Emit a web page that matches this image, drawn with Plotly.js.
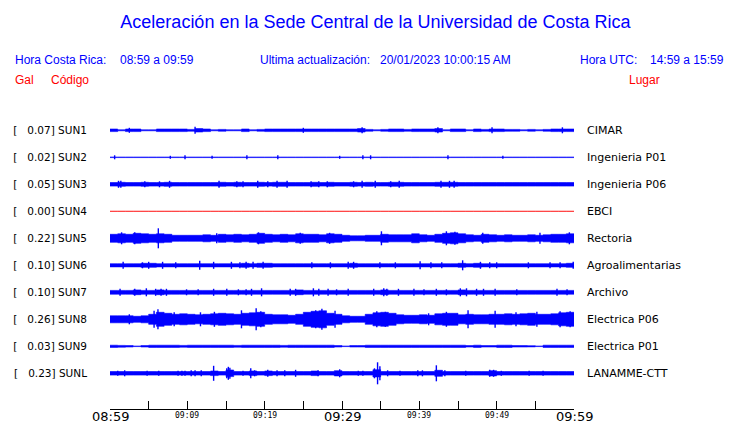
<!DOCTYPE html>
<html><head><meta charset="utf-8">
<script src="https://cdn.plot.ly/plotly-3.0.1.min.js"></script>
<style>html,body{margin:0;padding:0;background:#fff}#chart{width:740px;height:423px}</style>
</head><body><div id="chart"></div>
<script>
// ---- data ----
const peakGal = ["0.07","0.02","0.05","0.00","0.22","0.10","0.10","0.26","0.03","0.23"];
const codes = ["SUN1","SUN2","SUN3","SUN4","SUN5","SUN6","SUN7","SUN8","SUN9","SUNL"];
const places = ["CIMAR","Ingenieria P01","Ingenieria P06","EBCI","Rectoria","Agroalimentarias","Archivo","Electrica P06","Electrica P01","LANAMME-CTT"];
const tickMinutes = [0,5,10,15,20,25,30,35,40,45,50,55,60];
const tickLabels = ["08:59","","09:09","","09:19","","09:29","","09:39","","09:49","","09:59"];
const bigTickLabels = ["08:59","09:29","09:59"];

// envelope half-amplitude per minute (08:59 .. 09:59)
const envSUN1 = [1.3,0.5,1.3,1.3,0.5,0.5,1.3,1.3,1.3,1.3,0.9,1.7,1.3,0.5,0.9,0.5,0.5,1.3,0.5,0.9,1.3,1.3,1.3,1.3,1.3,1.3,1.3,1.3,1.3,1.3,1.3,1.3,1.7,0.9,0.5,0.9,1.3,1.3,0.9,1.3,1.3,1.3,1.7,0.5,1.3,1.3,0.5,1.3,0.9,1.3,1.3,0.9,0.9,0.5,0.9,0.5,0.9,1.3,1.3,1.3,1.3];
const envSUN2 = [0.3,0.3,0.3,0.3,0.3,0.3,0.3,0.3,0.3,0.3,0.3,0.3,0.3,0.3,0.3,0.3,0.3,0.3,0.3,0.3,0.3,0.3,0.3,0.3,0.3,0.3,0.3,0.3,0.3,0.3,0.3,0.3,0.3,0.3,0.3,0.3,0.3,0.3,0.3,0.3,0.3,0.3,0.3,0.3,0.3,0.3,0.3,0.3,0.3,0.3,0.3,0.3,0.3,0.3,0.3,0.3,0.3,0.3,0.3,0.3,0.3];
const envSUN3 = [1.8,2,1.8,1.8,2,1.8,1.8,2,1.8,1.8,1.8,1.8,1.8,1.8,2,1.8,2,1.8,1.8,2,1.8,2,2,1.8,1.8,1.8,2,1.8,2,1.8,1.8,2,1.8,2,1.8,1.8,2,2,1.8,1.8,1.8,1.8,2,2,2,1.8,1.8,1.8,1.8,1.8,1.8,1.8,1.8,1.8,1.8,1.8,1.8,1.8,1.8,1.8,1.8];
const envSUN4 = [0,0,0,0,0,0,0,0,0,0,0,0,0,0,0,0,0,0,0,0,0,0,0,0,0,0,0,0,0,0,0,0,0,0,0,0,0,0,0,0,0,0,0,0,0,0,0,0,0,0,0,0,0,0,0,0,0,0,0,0,0];
const envSUN5 = [4,4.5,4,5,4.5,4,4.5,4,3,3,3,3,3.5,3,4,3.5,4,3.5,4,5,4,3.5,4,3.5,4.5,4,4,3.5,4.5,4,3,2.5,2.5,3,3,4,3.5,3.5,3.5,4.5,3.5,3,4,5,5.5,4.5,3.5,3,4,3.5,3,3.5,3,3,3.5,3,3.5,4,4,4.5,4.5];
const envSUN6 = [1.6,1.6,1.6,1.6,2,2,1.6,1.6,1.6,1.6,1.6,1.6,1.6,1.6,1.6,1.6,1.6,2,1.6,2,2,1.6,1.6,1.6,1.6,1.6,1.6,1.6,1.6,1.6,1.6,2,1.6,1.6,1.6,1.6,1.6,1.6,1.6,1.6,1.6,1.6,1.6,1.6,1.6,2,1.6,2,1.6,1.6,1.6,1.6,1.6,1.6,1.6,1.6,1.6,1.6,1.6,2,1.6];
const envSUN7 = [1.9,1.9,1.9,2.4,1.9,1.9,2.4,1.9,1.9,1.9,1.9,1.9,1.9,1.9,1.9,1.9,1.9,1.9,1.9,1.9,1.9,1.9,1.9,1.9,2.4,1.9,1.9,1.9,1.9,1.9,1.9,1.9,1.9,1.9,1.9,2.4,1.9,1.9,1.9,1.9,1.9,1.9,1.9,1.9,1.9,2.4,1.9,1.9,1.9,1.9,1.9,1.9,1.9,1.9,1.9,1.9,1.9,1.9,1.9,1.9,1.9];
const envSUN8 = [3.5,3.5,3.5,3,3.5,5,7,6,5,5.5,5,4.5,5,5.5,6,5.5,5,6,6.5,7,5,4.5,4.5,4,5,7,8,8.5,6,5,3.5,3,3,5,6.5,7,6,4.5,4,4,4.5,4,5.5,6,6,4.5,5,4.5,4.5,5,5,5.5,5,5.5,6,5,5,5.5,6.5,7,7];
const envSUN9 = [1.1,0.9,0.7,0.3,0.7,1.1,1.1,1.1,1.1,0.9,1.1,1.1,1.1,1.1,1.1,1.1,0.9,1.1,1.1,1.1,1.1,1.1,0.9,1.1,1.1,1.1,1.1,1.1,1.1,0.7,0.3,0.7,0.7,1.1,1.1,1.1,1.1,1.1,1.1,1.1,1.1,1.1,1.1,1.1,1.1,1.1,0.7,1.1,0.7,0.7,1.1,1.1,0.7,0.7,0.6,0.3,1.1,1.1,1.1,1.1,1.1];
const envSUNL = [1.8,1.8,1.8,1.8,1.8,1.8,1.8,1.8,1.8,1.8,1.8,1.8,1.8,2.3,1.8,3.3,1.8,1.8,2.3,1.8,2.3,1.8,1.8,1.8,1.8,1.8,2.3,1.8,1.8,2.6,1.8,1.8,1.8,1.8,3.6,1.8,1.8,1.8,1.8,1.8,1.8,1.8,3,1.8,1.8,1.8,1.8,1.8,1.8,2.6,1.8,1.8,1.8,1.8,1.8,1.8,1.8,1.8,1.8,1.8,1.8];

// short bursts: time (minutes after 08:59) and half-amplitude
const spkT_SUN1 = [2.5,11.0,25.0,32.6,42.4,49.4,58.5];
const spkA_SUN1 = [2.5,3.5,2.5,3,3,3,3];
const spkT_SUN2 = [0.6,7.8,9.7,13.2,17.7,21.7,29.7,32.7,33.7,43.7,50.8];
const spkA_SUN2 = [2,1.5,2,1.5,2,2,1.5,2,2,2,1.5];
const spkT_SUN3 = [1.1,1.4,4.5,6.4,7.7,14.1,16.4,17.2,19.1,20.4,21.6,22.9,26.0,27.0,28.1,31.5,32.6,34.3,36.3,37.4,42.8,43.9,44.5];
const spkA_SUN3 = [3.5,3.5,3,3,3.5,3.5,3,3,3.5,3,3.5,3.5,3,3,3,3,3.5,3.5,3,3.5,3.5,3.5,3.5];
const spkT_SUN4 = [];
const spkA_SUN4 = [];
const spkT_SUN5 = [1.5,3.2,6.25,13.8,19.2,24.6,28.4,35.1,43.5,44.6,48.2,55.6,59.4];
const spkA_SUN5 = [6,6,10,5,6,5.5,5.5,7,7,6.5,5.5,5.5,6];
const spkT_SUN6 = [1.7,4.2,5.0,6.8,8.5,11.6,13.4,15.7,16.8,17.6,18.5,19.8,26.1,28.5,30.8,31.5,34.9,36.9,40.1,41.5,42.9,45.6,47.9,49.1,50.0,54.1,56.9,58.2,59.9];
const spkA_SUN6 = [3.5,3,3.5,3.5,3,4.5,3.5,3.5,3,3.5,3.5,3.5,3,3,3.5,3.5,3,3,4,3,3,5,3.5,3,3,3,3,3,3.5];
const spkT_SUN7 = [1.3,3.2,4.7,5.9,6.6,7.3,9.9,11.4,13.4,15.1,16.6,17.6,18.3,19.6,23.3,24.0,26.3,27.0,28.2,29.3,30.8,34.1,35.4,35.8,37.3,39.3,40.6,42.2,43.5,45.3,46.1,47.4,48.3,49.8,52.6,57.8,59.1];
const spkA_SUN7 = [3.5,3.5,4,3.5,3.5,3.5,3,3,3.5,3.5,3,3,3.5,4,3.5,3.5,4,3.5,3.5,3,3.5,3.5,4,3.5,3.5,3.5,3,3.5,3,4,4,3.5,3.5,3.5,3,3.5,3];
const spkT_SUN8 = [2.5,5.7,6.2,8.3,11.7,13.5,17.0,18.9,19.5,26.6,27.4,29.1,34.5,35.6,41.2,43.5,46.3,49.8,52.5,55.2,58.2,59.5];
const spkA_SUN8 = [5,8.5,10,7,7,7.5,9,11,8,9,10.5,8.5,8,7.5,6,7.5,9,8.5,7,7.5,8,8];
const spkT_SUN9 = [];
const spkA_SUN9 = [];
const spkT_SUNL = [1.0,1.9,4.8,6.3,8.8,9.3,9.7,10.5,11.0,11.8,13.4,15.1,15.3,15.5,17.2,18.2,18.7,20.4,21.6,22.6,24.0,26.9,29.7,32.1,32.7,34.2,34.6,34.9,35.9,37.5,39.8,40.4,42.2,43.3,46.0,49.1,49.6,50.6,54.2,56.0];
const spkA_SUNL = [2.5,3,2.5,2.5,2.5,2.5,2.5,3,3,3,7.5,5,6.5,5.5,2.5,5,3,3.5,3,3,3.5,3,4,2.5,2.5,5,11,7,3,2.5,3,3,8,3,2.5,3.5,3.5,2.5,2.5,2.5];

const envs = [envSUN1,envSUN2,envSUN3,envSUN4,envSUN5,envSUN6,envSUN7,envSUN8,envSUN9,envSUNL];
const spkTs = [spkT_SUN1,spkT_SUN2,spkT_SUN3,spkT_SUN4,spkT_SUN5,spkT_SUN6,spkT_SUN7,spkT_SUN8,spkT_SUN9,spkT_SUNL];
const spkAs = [spkA_SUN1,spkA_SUN2,spkA_SUN3,spkA_SUN4,spkA_SUN5,spkA_SUN6,spkA_SUN7,spkA_SUN8,spkA_SUN9,spkA_SUNL];

// ---- styles ----
const BLUE = "#0000ff", RED = "#ff0000";
const traceColors = [BLUE,BLUE,BLUE,RED,BLUE,BLUE,BLUE,BLUE,BLUE,BLUE];
const ROW = 27;
const NB = "\u00a0";

const traces = [];
const centers = codes.map((c,i) => -ROW*i);
envs.forEach((env,i) => {
  const c = centers[i], col = traceColors[i];
  const xs = env.map((_,k) => k);
  traces.push({x: xs, y: env.map(e => c - e), mode:"lines", line:{shape:"hv", width:0.6, color:col}, hoverinfo:"skip", showlegend:false});
  traces.push({x: xs, y: env.map(e => c + e), mode:"lines", line:{shape:"hv", width:0.6, color:col}, fill:"tonexty", fillcolor:col, hoverinfo:"skip", showlegend:false});
  const sx = [], sy = [];
  spkTs[i].forEach((t,k) => { sx.push(t,t,null); sy.push(c - spkAs[i][k], c + spkAs[i][k], null); });
  if (sx.length) traces.push({x: sx, y: sy, mode:"lines", line:{width:1.4, color:col}, hoverinfo:"skip", showlegend:false, connectgaps:false});
});
// dummy trace for right axis
traces.push({x:[0], y:[0], yaxis:"y2", mode:"markers", marker:{opacity:0}, hoverinfo:"skip", showlegend:false});

const L = 110, R = 574, T = 116, B = 409, W = 740, H = 423;
const px = x => (x - L) / (R - L);
const py = y => (B - y) / (B - T);
function ann(text, x, y, color) {
  return {text, xref:"paper", yref:"paper", x:px(x), y:py(y), xanchor:"left", yanchor:"middle", showarrow:false,
    font:{family:"Liberation Sans, Arial, sans-serif", size:12, color}};
}
const yRange = [-(B - 130.3), 130.3 - T];

// time tick labels placed on the x scale
const tickAnns = [];
tickMinutes.forEach((m,k) => {
  const s = tickLabels[k];
  if (!s) return;
  const big = bigTickLabels.includes(s);
  tickAnns.push({text: s, xref:"x", yref:"paper", x: m, y: py(big ? 416.5 : 415.5), xanchor:"center", yanchor:"middle",
    showarrow:false, borderpad:0,
    font: big ? {family:"DejaVu Sans", size:13, color:"#000"} : {family:"DejaVu Sans Mono", size:8, color:"#000"}});
});

const layout = {
  width: W, height: H,
  margin: {l: L, r: W - R, t: T, b: H - B, pad: 0},
  paper_bgcolor: "#fff", plot_bgcolor: "#fff",
  showlegend: false,
  title: {text: "Aceleración en la Sede Central de la Universidad de Costa Rica",
    x: 375.5 / W, xanchor: "center", y: 1 - 22 / H, yanchor: "middle",
    font: {family: "Liberation Sans, Arial, sans-serif", size: 18, color: BLUE}},
  xaxis: {range: [0, 60], showgrid: false, zeroline: false, showline: true, linecolor: "#000", linewidth: 1,
    ticks: "inside", ticklen: 8, tickcolor: "#000", tickwidth: 1,
    tickvals: tickMinutes, showticklabels: false, fixedrange: true},
  yaxis: {range: yRange, showgrid: false, zeroline: false, showline: false, ticks: "",
    tickvals: centers, ticktext: codes.map((c,i) => "[" + NB + NB + NB + peakGal[i] + "]" + NB + c),
    tickfont: {family: "DejaVu Sans", size: 10.5, color: "#000"}, ticklabelstandoff: 22, fixedrange: true},
  yaxis2: {range: yRange, overlaying: "y", side: "right", showgrid: false, zeroline: false, showline: false, ticks: "",
    tickvals: centers, ticktext: places,
    tickfont: {family: "DejaVu Sans", size: 11, color: "#000"}, ticklabelstandoff: 12, fixedrange: true},
  annotations: [
    ann("Hora Costa Rica:", 13, 60, BLUE),
    ann("08:59 a 09:59", 118, 60, BLUE),
    ann("Ultima actualización:", 258, 60, BLUE),
    ann("20/01/2023 10:00:15 AM", 378, 60, BLUE),
    ann("Hora UTC:", 578, 60, BLUE),
    ann("14:59 a 15:59", 648, 60, BLUE),
    ann("Gal", 13, 80, RED),
    ann("Código", 49, 80, RED),
    ann("Lugar", 627, 80, RED)
  ].concat(tickAnns)
};

Plotly.newPlot("chart", traces, layout, {staticPlot: true, displayModeBar: false});
</script>
</body></html>
